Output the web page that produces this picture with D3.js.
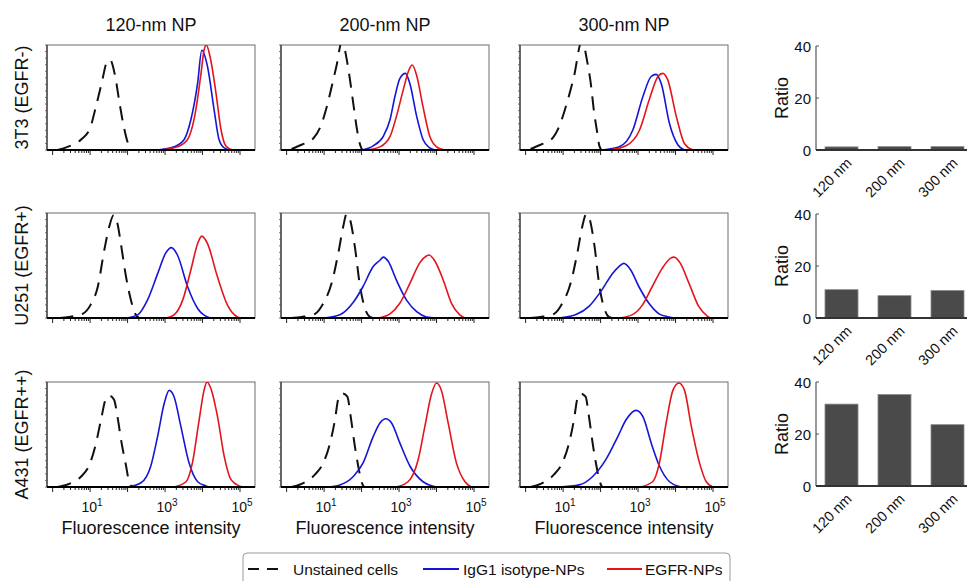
<!DOCTYPE html>
<html><head><meta charset="utf-8">
<script src="https://cdn.jsdelivr.net/npm/d3@7"></script>
<style>body{margin:0;background:#fff} text{font-family:"Liberation Sans",Arial,sans-serif;fill:#111}</style>
</head><body><svg id="c" width="967" height="581"></svg>
<script>
// ---------- data ----------
const columnTitles = ["120-nm NP", "200-nm NP", "300-nm NP"];
const rowLabels = ["3T3 (EGFR-)", "U251 (EGFR+)", "A431 (EGFR++)"];
const seriesNames = ["Unstained cells", "IgG1 isotype-NPs", "EGFR-NPs"];
const xTickExponents = [1, 3, 5];
const xAxisTitle = "Fluorescence intensity";
const ratioCategories = ["120 nm", "200 nm", "300 nm"];
const ratioTicks = [0, 20, 40];
const ratio3T3 = [1.2, 1.3, 1.3];
const ratioU251 = [10.9, 8.6, 10.6];
const ratioA431 = [31.5, 35.2, 23.6];

// histograms: [log10 fluorescence intensity, relative count]
const unst_3T3_120 = [[0.13,0],[0.4,0.03],[0.76,0.1],[1.0,0.21],[1.16,0.42],[1.31,0.64],[1.45,0.84],[1.53,0.86],[1.67,0.7],[1.78,0.46],[1.9,0.22],[2.04,0.04],[2.16,0]];
const igg_3T3_120  = [[2.8,0],[3.24,0.03],[3.51,0.1],[3.69,0.29],[3.87,0.64],[3.98,0.95],[4.13,0.8],[4.31,0.38],[4.44,0.1],[4.58,0.02],[4.76,0]];
const egfr_3T3_120 = [[2.9,0],[3.33,0.03],[3.6,0.1],[3.82,0.38],[3.96,0.73],[4.04,0.95],[4.1,1.0],[4.2,0.89],[4.36,0.54],[4.49,0.2],[4.62,0.04],[4.8,0]];

const unst_3T3_200 = [[0.13,0.01],[0.4,0.05],[0.71,0.11],[0.89,0.21],[1.07,0.41],[1.2,0.6],[1.33,0.8],[1.48,1.04],[1.6,0.87],[1.69,0.67],[1.78,0.44],[1.88,0.19],[1.96,0.05],[2.02,0]];
const igg_3T3_200  = [[2.0,0],[2.31,0.04],[2.58,0.13],[2.76,0.29],[2.89,0.51],[3.02,0.68],[3.17,0.73],[3.29,0.63],[3.47,0.32],[3.64,0.1],[3.82,0.02],[3.96,0]];
const egfr_3T3_200 = [[2.13,0],[2.49,0.03],[2.76,0.13],[2.93,0.32],[3.11,0.57],[3.26,0.76],[3.35,0.81],[3.47,0.71],[3.64,0.41],[3.82,0.13],[4.0,0.03],[4.22,0]];

const unst_3T3_300 = [[0.13,0.01],[0.4,0.05],[0.71,0.11],[0.89,0.22],[1.07,0.41],[1.29,0.7],[1.5,1.04],[1.65,0.83],[1.74,0.63],[1.83,0.35],[1.9,0.19],[1.96,0.05],[2.02,0]];
const igg_3T3_300  = [[2.05,0],[2.5,0.03],[2.86,0.19],[3.13,0.51],[3.35,0.7],[3.48,0.72],[3.62,0.63],[3.84,0.25],[4.06,0.05],[4.24,0]];
const egfr_3T3_300 = [[2.23,0],[2.68,0.04],[3.04,0.19],[3.3,0.48],[3.53,0.7],[3.66,0.73],[3.79,0.67],[4.02,0.32],[4.24,0.06],[4.46,0]];

const unst_U251_120 = [[0.18,0],[0.44,0.01],[0.8,0.04],[1.02,0.13],[1.2,0.29],[1.38,0.65],[1.51,0.87],[1.63,0.98],[1.73,0.9],[1.82,0.71],[1.96,0.39],[2.09,0.17],[2.22,0.03],[2.31,0]];
const igg_U251_120  = [[1.96,0],[2.27,0.03],[2.53,0.17],[2.8,0.42],[3.02,0.62],[3.17,0.67],[3.33,0.6],[3.6,0.3],[3.87,0.09],[4.13,0.01],[4.22,0]];
const egfr_U251_120 = [[3.02,0],[3.24,0.03],[3.47,0.17],[3.69,0.46],[3.87,0.71],[3.98,0.78],[4.13,0.71],[4.4,0.39],[4.67,0.12],[4.93,0.01],[5.02,0]];

const unst_U251_200 = [[0.13,0],[0.4,0.01],[0.76,0.04],[0.98,0.14],[1.2,0.33],[1.38,0.62],[1.51,0.87],[1.6,0.99],[1.69,0.94],[1.82,0.68],[1.96,0.3],[2.09,0.09],[2.22,0.01],[2.31,0]];
const igg_U251_200  = [[1.02,0],[1.42,0.03],[1.78,0.15],[2.04,0.3],[2.31,0.49],[2.49,0.55],[2.58,0.58],[2.71,0.54],[2.93,0.36],[3.2,0.17],[3.47,0.06],[3.73,0.01],[4.0,0]];
const egfr_U251_200 = [[2.44,0],[2.76,0.04],[3.02,0.14],[3.29,0.33],[3.56,0.53],[3.73,0.59],[3.8,0.6],[3.96,0.54],[4.18,0.36],[4.4,0.14],[4.62,0.03],[4.76,0]];

const unst_U251_300 = [[0.13,0],[0.4,0.01],[0.76,0.04],[0.98,0.14],[1.2,0.33],[1.38,0.62],[1.51,0.87],[1.62,0.99],[1.71,0.94],[1.84,0.68],[1.97,0.3],[2.1,0.09],[2.22,0.01],[2.31,0]];
const igg_U251_300  = [[0.89,0],[1.33,0.03],[1.69,0.11],[2.04,0.27],[2.31,0.42],[2.49,0.49],[2.62,0.52],[2.8,0.46],[3.02,0.3],[3.29,0.14],[3.56,0.04],[3.82,0.01],[4.0,0]];
const egfr_U251_300 = [[2.49,0],[2.84,0.03],[3.11,0.12],[3.38,0.3],[3.64,0.47],[3.87,0.57],[3.96,0.58],[4.13,0.52],[4.36,0.33],[4.62,0.11],[4.84,0.02],[4.93,0]];

const unst_A431_120 = [[0.13,0],[0.44,0.03],[0.76,0.1],[0.98,0.21],[1.16,0.42],[1.29,0.64],[1.42,0.84],[1.51,0.87],[1.64,0.83],[1.73,0.67],[1.84,0.42],[1.96,0.2],[2.04,0.05],[2.13,0]];
const igg_A431_120  = [[2.0,0],[2.36,0.04],[2.62,0.2],[2.8,0.48],[2.98,0.8],[3.11,0.92],[3.24,0.86],[3.42,0.58],[3.64,0.23],[3.87,0.05],[4.09,0.01],[4.18,0]];
const egfr_A431_120 = [[3.24,0],[3.56,0.05],[3.73,0.23],[3.91,0.64],[4.04,0.92],[4.12,1.0],[4.22,0.94],[4.4,0.67],[4.58,0.29],[4.76,0.07],[4.98,0.01],[5.07,0]];

const unst_A431_200 = [[0.13,0],[0.4,0.03],[0.76,0.12],[0.98,0.23],[1.16,0.42],[1.29,0.64],[1.38,0.84],[1.49,0.89],[1.62,0.86],[1.71,0.67],[1.82,0.39],[1.91,0.2],[2.0,0.05],[2.06,0]];
const igg_A431_200  = [[1.07,0],[1.42,0.02],[1.78,0.1],[2.04,0.23],[2.31,0.48],[2.49,0.61],[2.65,0.65],[2.8,0.61],[3.02,0.42],[3.29,0.2],[3.64,0.05],[4.0,0]];
const egfr_A431_200 = [[2.93,0],[3.24,0.05],[3.51,0.26],[3.69,0.58],[3.87,0.89],[4.0,0.99],[4.13,0.92],[4.31,0.61],[4.53,0.23],[4.76,0.05],[4.93,0]];

const unst_A431_300 = [[0.13,0],[0.4,0.03],[0.76,0.12],[0.98,0.23],[1.16,0.42],[1.29,0.64],[1.38,0.84],[1.47,0.89],[1.6,0.86],[1.69,0.67],[1.8,0.39],[1.89,0.2],[1.98,0.05],[2.04,0]];
const igg_A431_300  = [[0.89,0],[1.43,0.02],[1.79,0.1],[2.14,0.26],[2.46,0.48],[2.68,0.64],[2.95,0.73],[3.13,0.67],[3.35,0.42],[3.57,0.2],[3.84,0.05],[4.15,0]];
const egfr_A431_300 = [[3.04,0],[3.39,0.05],[3.57,0.23],[3.75,0.61],[3.93,0.92],[4.09,0.99],[4.24,0.92],[4.42,0.58],[4.64,0.23],[4.82,0.05],[5.0,0]];

// ---------- layout ----------
const panels = [
  [[unst_3T3_120, igg_3T3_120, egfr_3T3_120], [unst_3T3_200, igg_3T3_200, egfr_3T3_200], [unst_3T3_300, igg_3T3_300, egfr_3T3_300]],
  [[unst_U251_120, igg_U251_120, egfr_U251_120], [unst_U251_200, igg_U251_200, egfr_U251_200], [unst_U251_300, igg_U251_300, egfr_U251_300]],
  [[unst_A431_120, igg_A431_120, egfr_A431_120], [unst_A431_200, igg_A431_200, egfr_A431_200], [unst_A431_300, igg_A431_300, egfr_A431_300]]
];
const ratios = [ratio3T3, ratioU251, ratioA431];

const colLeft = [47, 281, 520], panelW = 208;
const rowTop = [45, 213, 382], panelH = 105;
const seriesColors = ["#111", "#1515d6", "#e3141c"];
const seriesDash = ["14,9", null, null];

const svg = d3.select("#c");
const defs = svg.append("defs");

// column titles
columnTitles.forEach((t, c) => {
  svg.append("text").attr("x", colLeft[c] + panelW / 2).attr("y", 31)
    .attr("text-anchor", "middle").attr("font-size", 18).text(t);
});
// row labels
rowLabels.forEach((t, r) => {
  svg.append("text").attr("transform", `translate(28,${rowTop[r] + panelH / 2}) rotate(-90)`)
    .attr("text-anchor", "middle").attr("font-size", 18).text(t);
});

panels.forEach((row, r) => {
  row.forEach((series, c) => {
    const L = colLeft[c], T = rowTop[r];
    const x = d3.scaleLog().domain([Math.pow(10, -0.15), Math.pow(10, 5.4)]).range([L, L + panelW]);
    const y = d3.scaleLinear().domain([0, 1]).range([T + panelH, T]);
    const g = svg.append("g");
    const cid = `clip${r}${c}`;
    defs.append("clipPath").attr("id", cid).append("rect")
      .attr("x", L).attr("y", T).attr("width", panelW).attr("height", panelH);

    // frame
    g.append("rect").attr("x", L).attr("y", T).attr("width", panelW).attr("height", panelH)
      .attr("fill", "none").attr("stroke", "#6d6d6d").attr("stroke-width", 1);

    const line = d3.line().x(d => x(Math.pow(10, d[0]))).y(d => y(d[1])).curve(d3.curveMonotoneX);
    const cg = g.append("g").attr("clip-path", `url(#${cid})`);
    series.forEach((s, i) => {
      cg.append("path").datum(s).attr("d", line).attr("fill", "none")
        .attr("stroke", seriesColors[i]).attr("stroke-width", i === 0 ? 2 : 1.6)
        .attr("stroke-dasharray", seriesDash[i]);
    });

    // left axis with minor ticks
    g.append("line").attr("x1", L).attr("x2", L).attr("y1", T).attr("y2", T + panelH)
      .attr("stroke", "#333").attr("stroke-width", 1.2);
    const yt = d3.range(0, 1.0001, 1 / 16);
    g.selectAll(".ytk").data(yt).enter().append("line")
      .attr("x1", L - 2).attr("x2", L).attr("y1", d => y(d)).attr("y2", d => y(d))
      .attr("stroke", "#555").attr("stroke-width", 0.8);

    // bottom axis (log ticks)
    const ticks = x.ticks().filter(v => v >= 1 && v <= 1e5);
    g.selectAll(".xtk").data(ticks).enter().append("line")
      .attr("x1", d => x(d)).attr("x2", d => x(d))
      .attr("y1", T + panelH)
      .attr("y2", d => T + panelH + (Math.abs(Math.log10(d) - Math.round(Math.log10(d))) < 1e-9 ? 5 : 3))
      .attr("stroke", "#222").attr("stroke-width", 1);
    g.append("line").attr("x1", L).attr("x2", L + panelW).attr("y1", T + panelH).attr("y2", T + panelH)
      .attr("stroke", "#000").attr("stroke-width", 2.2);

    if (r === 2) {
      xTickExponents.forEach(e => {
        const t = g.append("text").attr("x", x(Math.pow(10, e)) + 2).attr("y", T + panelH + 25)
          .attr("text-anchor", "middle").attr("font-size", 14);
        t.append("tspan").text("10");
        t.append("tspan").attr("dy", -6).attr("font-size", 10).text(String(e));
      });
      g.append("text").attr("x", L + panelW / 2).attr("y", T + panelH + 47)
        .attr("text-anchor", "middle").attr("font-size", 18).text(xAxisTitle);
    }
  });
});

// ratio bar charts
const barTop = [46, 214, 382], barH = 104, barAxisX = 816;
ratios.forEach((vals, r) => {
  const yb = d3.scaleLinear().domain([0, 40]).range([barTop[r] + barH, barTop[r]]);
  const xb = d3.scaleBand().domain(ratioCategories).range([815, 974]).paddingInner(0.377).paddingOuter(0.1885);
  const g = svg.append("g");
  g.selectAll("rect").data(vals).enter().append("rect")
    .attr("x", (d, i) => xb(ratioCategories[i])).attr("width", xb.bandwidth())
    .attr("y", d => yb(d)).attr("height", d => yb(0) - yb(d))
    .attr("fill", "#4a4a4a").attr("stroke", "#8c8c8c").attr("stroke-width", 0.8);
  g.append("line").attr("x1", barAxisX).attr("x2", barAxisX).attr("y1", yb(40)).attr("y2", yb(0))
    .attr("stroke", "#555").attr("stroke-width", 1.2);
  g.selectAll(".yt").data(ratioTicks).enter().append("line")
    .attr("x1", barAxisX).attr("x2", barAxisX + 3).attr("y1", d => yb(d)).attr("y2", d => yb(d))
    .attr("stroke", "#555").attr("stroke-width", 1);
  g.selectAll(".yl").data(ratioTicks).enter().append("text")
    .attr("x", barAxisX - 5).attr("y", d => yb(d) + 5.5).attr("text-anchor", "end")
    .attr("font-size", 15).text(d => d);
  g.append("line").attr("x1", barAxisX).attr("x2", 967).attr("y1", yb(0)).attr("y2", yb(0))
    .attr("stroke", "#333").attr("stroke-width", 1.8);
  g.append("text").attr("transform", `translate(788,${(yb(0) + yb(40)) / 2}) rotate(-90)`)
    .attr("text-anchor", "middle").attr("font-size", 18).text("Ratio");
  ratioCategories.forEach(cat => {
    const cx = xb(cat) + xb.bandwidth() / 2;
    g.append("text").attr("transform", `translate(${cx + 11},${yb(0) + 14}) rotate(-45)`)
      .attr("text-anchor", "end").attr("font-size", 14.5).text(cat);
  });
});

// legend
const lg = svg.append("g");
lg.append("rect").attr("x", 243).attr("y", 553).attr("width", 487).attr("height", 40).attr("rx", 4)
  .attr("fill", "#fff").attr("stroke", "#9a9a9a").attr("stroke-width", 1);
const legendLineX = [[248, 278], [423, 459], [607, 642]];
const legendTextX = [293, 463, 645];
seriesNames.forEach((n, i) => {
  lg.append("line").attr("x1", legendLineX[i][0]).attr("x2", legendLineX[i][1]).attr("y1", 569).attr("y2", 569)
    .attr("stroke", seriesColors[i]).attr("stroke-width", i === 0 ? 2.2 : 1.8)
    .attr("stroke-dasharray", i === 0 ? "11,8" : null);
  lg.append("text").attr("x", legendTextX[i]).attr("y", 575).attr("font-size", 15.5).text(n);
});
</script></body></html>
